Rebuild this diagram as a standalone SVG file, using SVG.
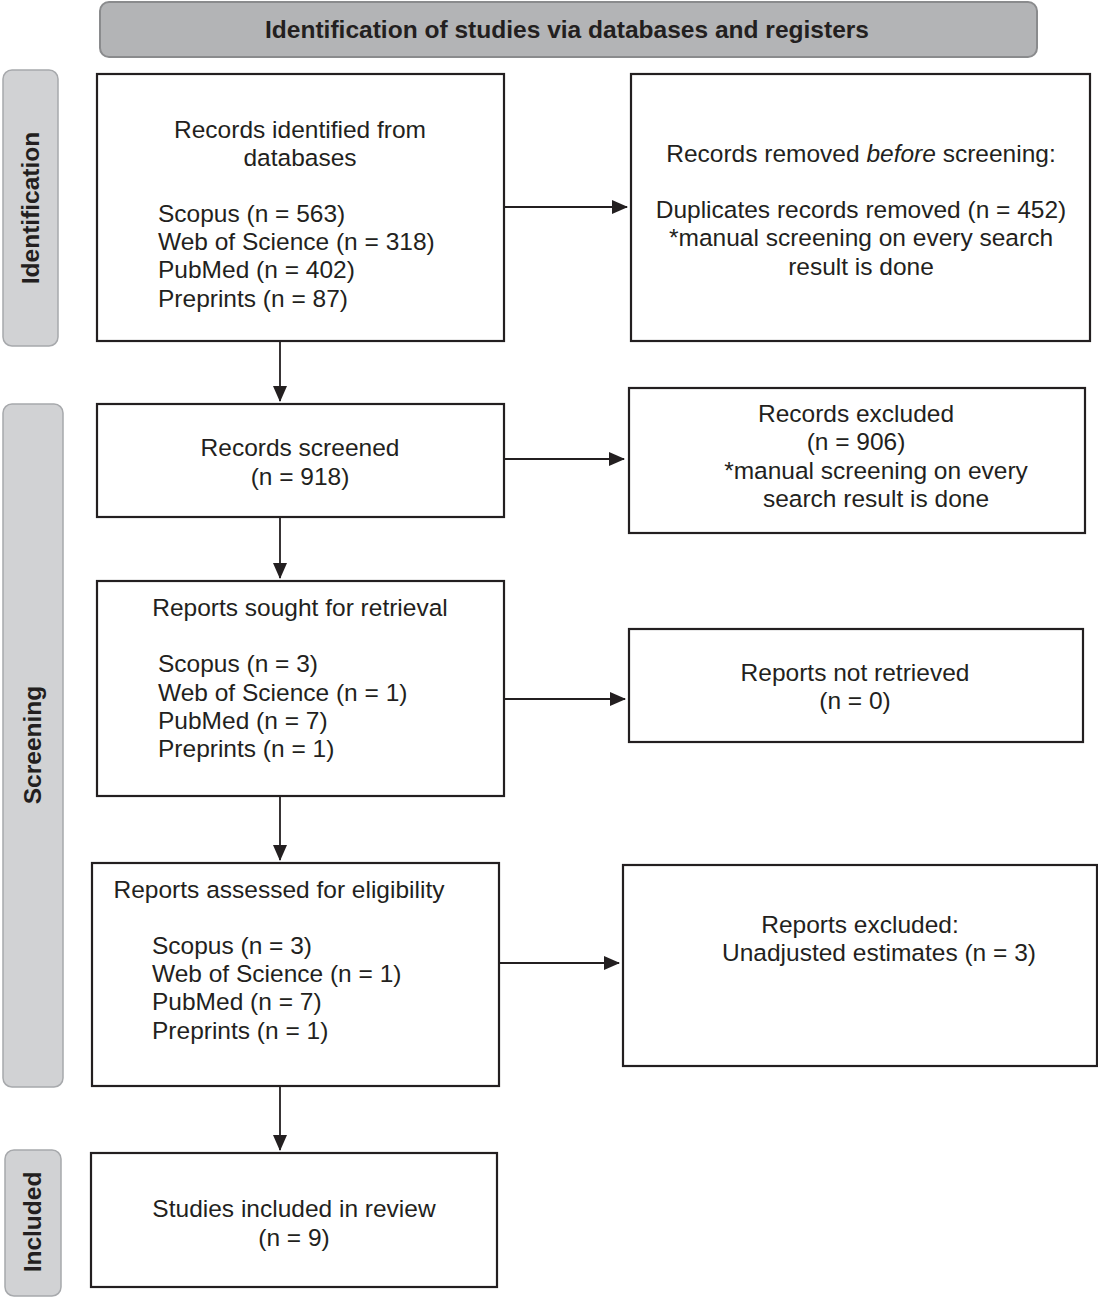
<svg xmlns="http://www.w3.org/2000/svg" width="1098" height="1298" viewBox="0 0 1098 1298">
<style>
.box{fill:#fff;stroke:#231f20;stroke-width:2.2}
.side{fill:#d1d2d4;stroke:#a7a9ac;stroke-width:1.5}
.t{font-family:"Liberation Sans",Arial,sans-serif;font-size:24.5px;fill:#231f20}
.c{text-anchor:middle}
.sl{font-family:"Liberation Sans",Arial,sans-serif;font-size:24.5px;font-weight:bold;fill:#231f20;text-anchor:middle}
.ln{stroke:#231f20;stroke-width:1.8;fill:none}
</style>
<defs>
<marker id="ah" markerWidth="16" markerHeight="14" refX="15" refY="7" orient="auto" markerUnits="userSpaceOnUse">
<path d="M0,0 L16,7 L0,14 Z" fill="#231f20"/>
</marker>
</defs>
<g id="header">
<rect x="100" y="2" width="937" height="55" rx="9" fill="#b3b4b6" stroke="#8a8b8d" stroke-width="2"/>
<text x="567" y="38" text-anchor="middle" font-family="Liberation Sans,Arial,sans-serif" font-size="24" font-weight="bold" fill="#231f20" textLength="604" lengthAdjust="spacingAndGlyphs">Identification of studies via databases and registers</text>
</g>
<g id="side-identification">
<rect class="side" x="3" y="70" width="55" height="276" rx="9"/>
<text class="sl" transform="translate(39,208) rotate(-90)">Identification</text>
</g>
<g id="side-screening">
<rect class="side" x="3" y="404" width="60" height="683" rx="9"/>
<text class="sl" transform="translate(41,745) rotate(-90)">Screening</text>
</g>
<g id="side-included">
<rect class="side" x="5" y="1150" width="56" height="146" rx="9"/>
<text class="sl" transform="translate(41,1222) rotate(-90)">Included</text>
</g>
<g id="n1">
<rect class="box" x="97" y="74" width="407" height="267"/>
<text class="t c" x="300" y="138">Records identified from</text>
<text class="t c" x="300" y="166">databases</text>
<text class="t" x="158" y="222">Scopus (n = 563)</text>
<text class="t" x="158" y="250">Web of Science (n = 318)</text>
<text class="t" x="158" y="278">PubMed (n = 402)</text>
<text class="t" x="158" y="307">Preprints (n = 87)</text>
</g>
<g id="n2">
<rect class="box" x="631" y="74" width="459" height="267"/>
<text class="t c" x="861" y="162">Records removed <tspan font-style="italic">before</tspan> screening:</text>
<text class="t c" x="861" y="218">Duplicates records removed (n = 452)</text>
<text class="t c" x="861" y="246">*manual screening on every search</text>
<text class="t c" x="861" y="275">result is done</text>
</g>
<g id="n3">
<rect class="box" x="97" y="404" width="407" height="113"/>
<text class="t c" x="300" y="456">Records screened</text>
<text class="t c" x="300" y="485">(n = 918)</text>
</g>
<g id="n4">
<rect class="box" x="629" y="388" width="456" height="145"/>
<text class="t c" x="856" y="422">Records excluded</text>
<text class="t c" x="856" y="450">(n = 906)</text>
<text class="t c" x="876" y="479">*manual screening on every</text>
<text class="t c" x="876" y="507">search result is done</text>
</g>
<g id="n5">
<rect class="box" x="97" y="581" width="407" height="215"/>
<text class="t c" x="300" y="616">Reports sought for retrieval</text>
<text class="t" x="158" y="672">Scopus (n = 3)</text>
<text class="t" x="158" y="701">Web of Science (n = 1)</text>
<text class="t" x="158" y="729">PubMed (n = 7)</text>
<text class="t" x="158" y="757">Preprints (n = 1)</text>
</g>
<g id="n6">
<rect class="box" x="629" y="629" width="454" height="113"/>
<text class="t c" x="855" y="681">Reports not retrieved</text>
<text class="t c" x="855" y="709">(n = 0)</text>
</g>
<g id="n7">
<rect class="box" x="92" y="863" width="407" height="223"/>
<text class="t c" x="279" y="898">Reports assessed for eligibility</text>
<text class="t" x="152" y="954">Scopus (n = 3)</text>
<text class="t" x="152" y="982">Web of Science (n = 1)</text>
<text class="t" x="152" y="1010">PubMed (n = 7)</text>
<text class="t" x="152" y="1039">Preprints (n = 1)</text>
</g>
<g id="n8">
<rect class="box" x="623" y="865" width="474" height="201"/>
<text class="t c" x="860" y="933">Reports excluded:</text>
<text class="t c" x="879" y="961">Unadjusted estimates (n = 3)</text>
</g>
<g id="n9">
<rect class="box" x="91" y="1153" width="406" height="134"/>
<text class="t c" x="294" y="1217">Studies included in review</text>
<text class="t c" x="294" y="1246">(n = 9)</text>
</g>
<g id="connectors">
<line class="ln" x1="505" y1="207" x2="627" y2="207" marker-end="url(#ah)"/>
<line class="ln" x1="505" y1="459" x2="624" y2="459" marker-end="url(#ah)"/>
<line class="ln" x1="505" y1="699" x2="625" y2="699" marker-end="url(#ah)"/>
<line class="ln" x1="500" y1="963" x2="619" y2="963" marker-end="url(#ah)"/>
<line class="ln" x1="280" y1="342" x2="280" y2="401" marker-end="url(#ah)"/>
<line class="ln" x1="280" y1="518" x2="280" y2="578" marker-end="url(#ah)"/>
<line class="ln" x1="280" y1="797" x2="280" y2="860" marker-end="url(#ah)"/>
<line class="ln" x1="280" y1="1087" x2="280" y2="1150" marker-end="url(#ah)"/>
</g>
</svg>
